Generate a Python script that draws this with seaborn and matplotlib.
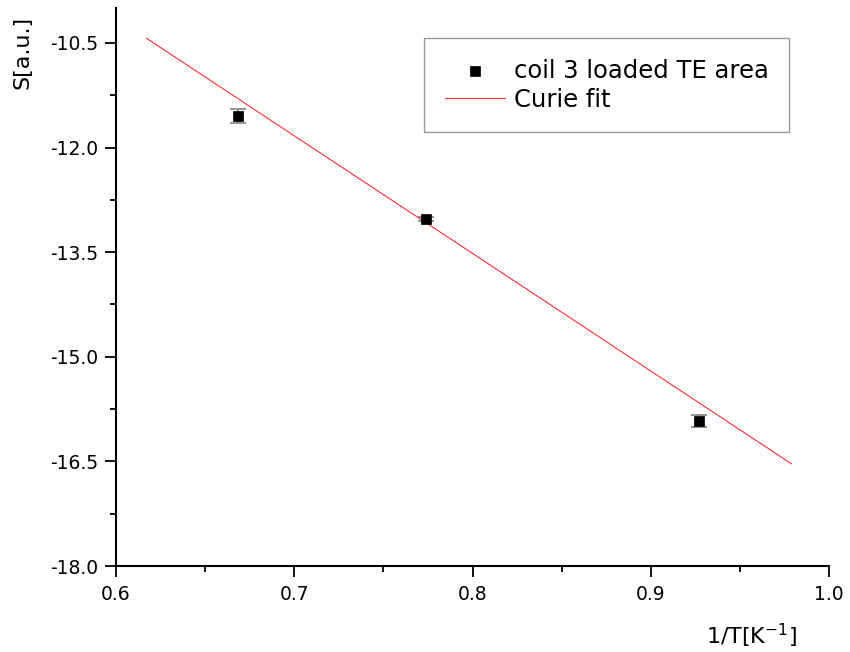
import numpy as np
import pandas as pd
import matplotlib
matplotlib.use("Agg")
import matplotlib.pyplot as plt
import seaborn as sns

# data
inv_T = [0.6685, 0.7738, 0.9273]
signal = [-11.55, -13.02, -15.92]
signal_err = [0.10, 0.03, 0.09]

# Curie fit S = A + C * (1/T)
fit_A = -0.03
fit_C = -16.86
fit_range = [0.617, 0.979]

x_ticks = [0.6, 0.7, 0.8, 0.9, 1.0]
y_ticks = [-18.0, -16.5, -15.0, -13.5, -12.0, -10.5]

sns.set_style("ticks")
plt.rcParams['font.family'] = ['DejaVu Sans']
plt.rcParams['mathtext.fontset'] = 'dejavusans'
plt.rcParams['text.color'] = 'black'
plt.rcParams['axes.labelcolor'] = 'black'
plt.rcParams['xtick.color'] = 'black'
plt.rcParams['ytick.color'] = 'black'

fig = plt.figure(figsize=(8.5, 6.52), dpi=100)
ax = fig.add_axes([116/850, 1-566/652, 713/850, 558/652])

pts = pd.DataFrame({"x": inv_T, "y": signal})
fit_df = pd.DataFrame({"x": fit_range,
                       "y": [fit_A + fit_C * v for v in fit_range]})

ax.errorbar(inv_T, signal, yerr=signal_err, fmt='none', ecolor='#808080',
            elinewidth=1.2, capsize=6, capthick=1.2, zorder=2)
sns.lineplot(data=fit_df, x="x", y="y", ax=ax, color='#ff3030', lw=0.8,
             label="Curie fit", zorder=3)
sns.scatterplot(data=pts, x="x", y="y", ax=ax, marker='s', s=60, color='black',
                edgecolor='black', linewidth=0.5, label="coil 3 loaded TE area", zorder=4)

ax.set_xlim(0.6, 1.0)
ax.set_ylim(-18.0, -10.0)
ax.set_xticks(x_ticks)
ax.set_xticklabels([f"{v:.1f}" for v in x_ticks])
ax.set_yticks(y_ticks)
ax.set_yticklabels([f"{v:.1f}" for v in y_ticks])
ax.set_xticks([0.65, 0.75, 0.85, 0.95], minor=True)
ax.set_yticks([-17.25, -15.75, -14.25, -12.75, -11.25], minor=True)

for s in ['top', 'right']:
    ax.spines[s].set_visible(False)
for s in ['left', 'bottom']:
    ax.spines[s].set_linewidth(1.5)
    ax.spines[s].set_color('black')

ax.tick_params(axis='both', which='major', direction='out', length=8, width=1.3,
               colors='black', labelsize=13.5)
ax.tick_params(axis='both', which='minor', direction='out', length=4, width=1.3,
               colors='black')
ax.tick_params(axis='x', which='major', pad=6)
ax.tick_params(axis='y', which='major', pad=5)

ax.set_xlabel("1/T[K$^{-1}$]", fontsize=16, ha='right', va='center', color='black')
ax.xaxis.set_label_coords(0.955, -0.125)
ax.set_ylabel("S[a.u.]", fontsize=16, va='center', ha='center', color='black')
ax.yaxis.set_label_coords(-0.131, 0.921)

handles, labels = ax.get_legend_handles_labels()
order = [labels.index("coil 3 loaded TE area"), labels.index("Curie fit")]
leg = ax.legend([handles[i] for i in order], [labels[i] for i in order],
                loc='upper left', bbox_to_anchor=(424/850, 1-38/652),
                bbox_transform=fig.transFigure, fontsize=17.5, frameon=True,
                fancybox=False, shadow=False, edgecolor='#808080',
                handlelength=2.5, handletextpad=0.35, borderpad=0.85,
                labelspacing=0.2, borderaxespad=0, labelcolor='black')
leg.get_frame().set_linewidth(1.0)

fig.savefig("out.png", dpi=100, facecolor='white')
